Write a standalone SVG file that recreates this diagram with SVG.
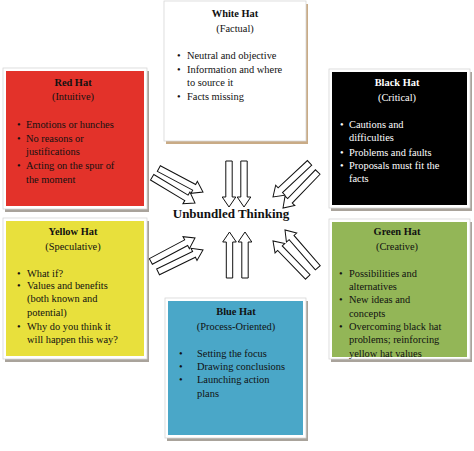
<svg xmlns="http://www.w3.org/2000/svg" width="474" height="451" viewBox="0 0 474 451">
<defs>
<style>
text{font-family:"Liberation Serif","Times New Roman",serif;font-size:10.4px;fill:#111}
.t{font-weight:bold;text-anchor:middle}
.s{text-anchor:middle}
.w text{fill:#fff}
.sh{fill:#a9a39b}
.fr{fill:#fff;stroke:#d6d6d6;stroke-width:0.8}
.c{fill:#fff;stroke:#111;stroke-width:1}
</style>
<path id="ad" d="M-50,-3.2 L-10,-3.2 L-10,-6.8 L0,0 L-10,6.8 L-10,3.2 L-50,3.2 Z"/>
<path id="av" d="M-46,-3.2 L-10,-3.2 L-10,-6.8 L0,0 L-10,6.8 L-10,3.2 L-46,3.2 Z"/>
</defs>
<rect width="474" height="451" fill="#fff"/>

<g id="connectors" class="c">
<use href="#av" transform="translate(229,207) rotate(90)"/>
<use href="#av" transform="translate(244,207) rotate(90)"/>
<use href="#av" transform="translate(229.5,232) rotate(-90)"/>
<use href="#av" transform="translate(245,232) rotate(-90)"/>
<use href="#ad" transform="translate(203,192) rotate(28)"/>
<use href="#ad" transform="translate(195,203) rotate(31)"/>
<use href="#ad" transform="translate(273,197) rotate(137)"/>
<use href="#ad" transform="translate(283,208) rotate(134)"/>
<use href="#ad" transform="translate(195,238) rotate(-28)"/>
<use href="#ad" transform="translate(203,250) rotate(-26)"/>
<use href="#ad" transform="translate(285,230) rotate(-131)"/>
<use href="#ad" transform="translate(273,241) rotate(-134)"/>
</g>

<g id="center">
<text class="t" x="231" y="218" style="font-size:13px">Unbundled Thinking</text>
</g>

<g id="white-hat">
<rect x="166" y="4" width="142" height="140" fill="#c9ab86"/>
<rect x="164" y="1" width="142" height="140" class="fr"/>
<text class="t" x="235" y="17">White Hat</text>
<text class="s" x="235" y="32">(Factual)</text>
<text x="177" y="59">•</text><text x="187" y="59">Neutral and objective</text>
<text x="177" y="73">•</text><text x="187" y="73">Information and where</text>
<text x="187" y="86">to source it</text>
<text x="177" y="100">•</text><text x="187" y="100">Facts missing</text>
</g>

<g id="red-hat">
<rect x="5" y="71" width="144" height="141" class="sh"/>
<rect x="3" y="68" width="144" height="141" class="fr"/>
<rect x="6" y="71" width="138" height="135" fill="#e3322a"/>
<text class="t" x="73" y="86">Red Hat</text>
<text class="s" x="73" y="100">(Intuitive)</text>
<text x="17" y="128">•</text><text x="26" y="128">Emotions or hunches</text>
<text x="17" y="141.5">•</text><text x="26" y="141.5">No reasons or</text>
<text x="26" y="155">justifications</text>
<text x="17" y="169">•</text><text x="26" y="169">Acting on the spur of</text>
<text x="26" y="183">the moment</text>
</g>

<g id="black-hat">
<rect x="331" y="72" width="141" height="139" class="sh"/>
<rect x="329" y="69" width="141" height="139" class="fr"/>
<rect x="332" y="72" width="135" height="133" fill="#000"/>
<g class="w">
<text class="t" x="397" y="86">Black Hat</text>
<text class="s" x="397" y="101">(Critical)</text>
<text x="340" y="128">•</text><text x="349" y="128">Cautions and</text>
<text x="349" y="141">difficulties</text>
<text x="340" y="156">•</text><text x="349" y="156">Problems and faults</text>
<text x="340" y="169">•</text><text x="349" y="169">Proposals must fit the</text>
<text x="349" y="182">facts</text>
</g>
</g>

<g id="yellow-hat">
<rect x="5" y="221" width="144" height="141" class="sh"/>
<rect x="3" y="218" width="144" height="141" class="fr"/>
<rect x="6" y="221" width="138" height="135" fill="#e8e03c"/>
<text class="t" x="73" y="235">Yellow Hat</text>
<text class="s" x="73" y="250">(Speculative)</text>
<text x="17" y="277">•</text><text x="27" y="277">What if?</text>
<text x="17" y="289">•</text><text x="27" y="289">Values and benefits</text>
<text x="27" y="302">(both known and</text>
<text x="27" y="316">potential)</text>
<text x="17" y="330">•</text><text x="27" y="330">Why do you think it</text>
<text x="27" y="343">will happen this way?</text>
</g>

<g id="green-hat">
<rect x="331" y="222" width="141" height="140" class="sh"/>
<rect x="329" y="219" width="141" height="140" class="fr"/>
<rect x="332" y="222" width="135" height="135" fill="#93b657"/>
<text class="t" x="397" y="235">Green Hat</text>
<text class="s" x="397" y="250">(Creative)</text>
<text x="339" y="277">•</text><text x="349" y="277">Possibilities and</text>
<text x="349" y="290">alternatives</text>
<text x="339" y="303">•</text><text x="349" y="303">New ideas and</text>
<text x="349" y="317">concepts</text>
<text x="339" y="330">•</text><text x="349" y="330">Overcoming black hat</text>
<text x="349" y="343">problems; reinforcing</text>
<text x="349" y="357">yellow hat values</text>
</g>

<g id="blue-hat">
<rect x="167" y="301" width="141" height="140" class="sh"/>
<rect x="165" y="298" width="141" height="140" class="fr"/>
<rect x="168" y="301" width="135" height="134" fill="#4aa7c8"/>
<text class="t" x="236" y="315">Blue Hat</text>
<text class="s" x="236" y="330">(Process-Oriented)</text>
<text x="179" y="357">•</text><text x="197" y="357">Setting the focus</text>
<text x="179" y="370">•</text><text x="197" y="370">Drawing conclusions</text>
<text x="179" y="383">•</text><text x="197" y="383">Launching action</text>
<text x="197" y="397">plans</text>
</g>
</svg>
